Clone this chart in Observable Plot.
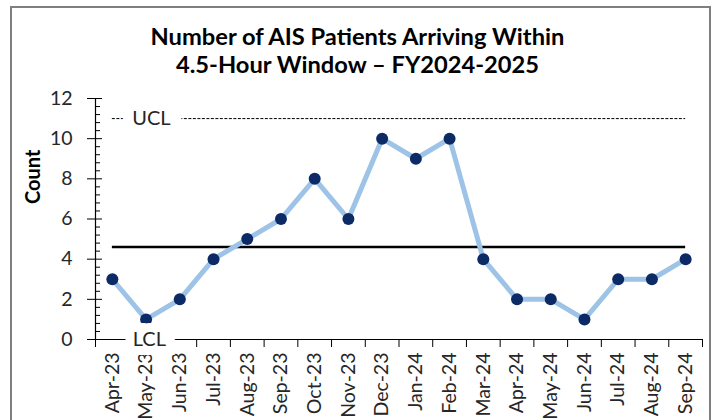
<!DOCTYPE html>
<html>
<head>
<meta charset="utf-8">
<script src="https://cdn.jsdelivr.net/npm/d3@7"></script>
<script src="https://cdn.jsdelivr.net/npm/@observablehq/plot@0.6"></script>
<style>
  body { margin: 0; background: #fff; }
  #wrap { position: relative; width: 715px; height: 420px; overflow: hidden; background: #fff; font-family: Lato, "Open Sans", sans-serif; }
  #border { position: absolute; left: 10px; top: 6px; width: 701px; height: 440px; border: 2px solid #7f7f7f; box-sizing: border-box; z-index: 5; pointer-events: none; }
  #title { position: absolute; left: 0; width: 715px; top: 22px; text-align: center; font-weight: bold; font-size: 23.7px; line-height: 28px; color: #000; }
  #chart { position: absolute; left: 0; top: 85px; }
</style>
</head>
<body>
<div id="wrap">
  <div id="title">Number of AIS Patients Arriving Within<br>4.5-Hour Window – FY2024-2025</div>
  <div id="chart"></div>
  <div id="border"></div>
</div>
<script>
const months = ["Apr-23","May-23","Jun-23","Jul-23","Aug-23","Sep-23","Oct-23","Nov-23","Dec-23","Jan-24","Feb-24","Mar-24","Apr-24","May-24","Jun-24","Jul-24","Aug-24","Sep-24"];
const counts = [3,1,2,4,5,6,8,6,10,9,10,4,2,2,1,3,3,4];
const ucl = 11;
const lcl = 0;
const yTicks = [0,2,4,6,8,10,12];
const yMinorStep = 0.4;

const centerLine = d3.mean(counts);
const data = months.map((m, i) => ({i, month: m, count: counts[i]}));
const idx = d3.range(months.length);
const xDomain = [-0.5, months.length - 0.5];
const boundaries = d3.range(months.length + 1).map(k => k - 0.5);
const yMinor = d3.range(0, 12 + 1e-9, yMinorStep).filter(v => Math.abs(v / 2 - Math.round(v / 2)) > 1e-6);

const W = 715, H = 335, mL = 95, mR = 13, mT = 13, mB = 81;
const fw = W - mL - mR, fh = H - mT - mB;
const ink = "#262626";

const chart = Plot.plot({
  width: W, height: H,
  marginLeft: mL, marginRight: mR, marginTop: mT, marginBottom: mB,
  style: {fontFamily: "Lato, 'Open Sans', sans-serif", fontSize: "19.5px", color: ink, background: "transparent"},
  x: {type: "linear", domain: xDomain, axis: null},
  y: {domain: [0, 12], axis: null},
  marks: [
    Plot.ruleX([xDomain[0]], {stroke: "#000", strokeWidth: 1.2}),
    Plot.ruleY([0], {stroke: "#000", strokeWidth: 1.2}),
    Plot.tickY(yMinor, {y: d => d, insetRight: fw - 5, stroke: "#000"}),
    Plot.tickY(yTicks, {y: d => d, insetLeft: -8, insetRight: fw - 7, stroke: "#000"}),
    Plot.tickX(boundaries, {x: d => d, insetTop: fh, insetBottom: -8, stroke: "#000"}),
    Plot.axisY({ticks: yTicks, tickSize: 0, tickPadding: 23, label: null, fill: ink}),
    Plot.axisX({ticks: idx, tickFormat: i => months[i], tickRotate: -90, tickSize: 0, tickPadding: 13, label: null, fill: ink}),
    Plot.ruleY([ucl], {x1: 0, x2: months.length - 1, stroke: "#000", strokeWidth: 1, strokeDasharray: "3,1.5"}),
    Plot.ruleY([centerLine], {x1: 0, x2: months.length - 1, stroke: "#000", strokeWidth: 2.5}),
    Plot.line(data, {x: "i", y: "count", stroke: "#9dc3e6", strokeWidth: 5, strokeLinejoin: "round"}),
    Plot.dot(data, {x: "i", y: "count", r: 6, fill: "#0b2a66", stroke: null}),
    Plot.text([ucl], {x: 0, y: d => d, dx: 39, text: () => "UCL", fontSize: 20, fill: ink, stroke: "white", strokeWidth: 22, paintOrder: "stroke", strokeLinejoin: "miter"}),
    Plot.text([lcl], {x: 0, y: d => d, dx: 37, text: () => "LCL", fontSize: 20, fill: ink, stroke: "white", strokeWidth: 18, paintOrder: "stroke", strokeLinejoin: "miter"}),
    Plot.text(["Count"], {frameAnchor: "left", dx: -62, dy: -15, rotate: -90, text: d => d, fontWeight: "bold", fontSize: 20, fill: "#000"})
  ]
});
document.getElementById("chart").appendChild(chart);
</script>
</body>
</html>
